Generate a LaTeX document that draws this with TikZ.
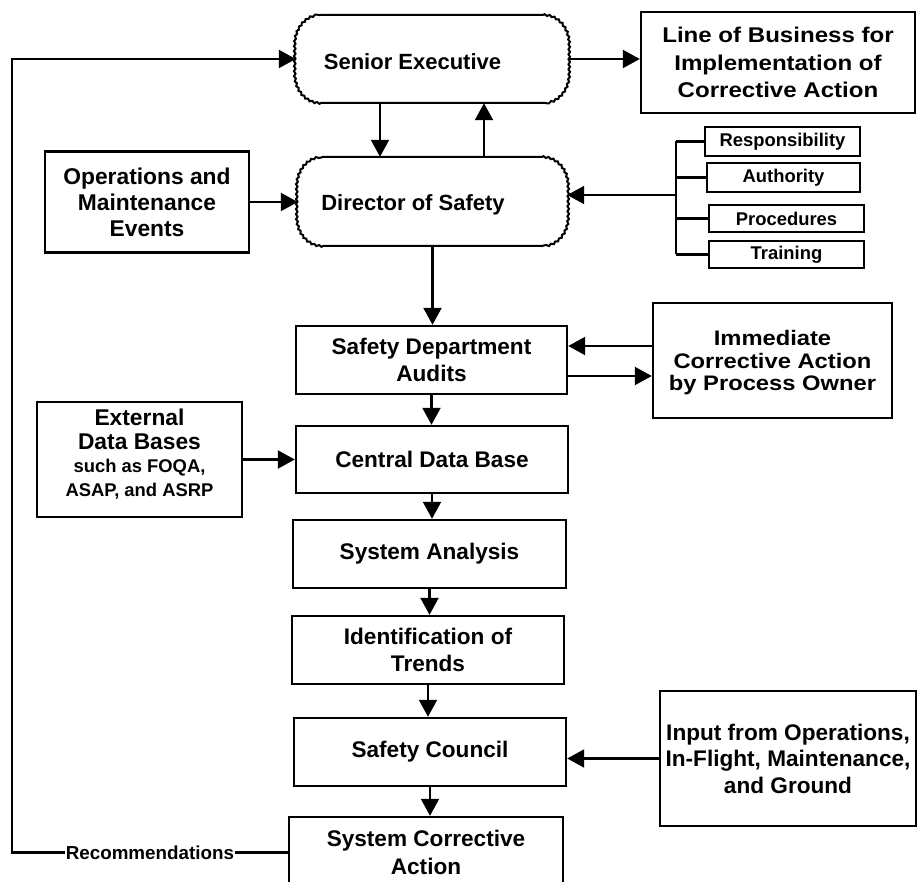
\documentclass[tikz,border=0pt]{standalone}
\usepackage{fontspec}
\setmainfont{Liberation Sans}
\newfontfamily\widefont{Liberation Sans}[FakeStretch=1.13]
\usetikzlibrary{arrows.meta,decorations.pathmorphing,calc}

\tikzset{
  box/.style={draw, line width=2.4pt, inner sep=0pt, align=center,
    font=\bfseries\fontsize{22.6}{27}\selectfont},
  widebox/.style={box, font=\bfseries\widefont\fontsize{21.3}{27.5}\selectfont},
  ovaltext/.style={inner sep=0pt, align=center,
    font=\bfseries\fontsize{22}{27}\selectfont},
  tag/.style={draw, line width=2pt, inner sep=0pt,
    font=\bfseries\fontsize{18.4}{20}\selectfont},
  link/.style={line width=2.1pt},
  arr/.style={link, -{Triangle[length=17pt,width=18pt]}},
  wavy/.style={decoration={snake, amplitude=0.8pt, segment length=5pt}},
}

% stadium outline with wavy rounded ends: #1,#2 = top left, #3,#4 = bottom right
\newcommand\wavyoval[4]{%
  \draw[line width=2pt] (#1+25,#2) -- (#3-25,#2)
    decorate[wavy]{arc[start angle=-90,end angle=0,x radius=25,y radius=29]
      -- (#3,#4-29) arc[start angle=0,end angle=90,x radius=25,y radius=29]}
    -- (#1+25,#4)
    decorate[wavy]{arc[start angle=90,end angle=180,x radius=25,y radius=29]
      -- (#1,#2+29) arc[start angle=180,end angle=270,x radius=25,y radius=29]}
    -- cycle;}

\begin{document}
\begin{tikzpicture}[x=1pt,y=1pt,yscale=-1]
\useasboundingbox (0,0) rectangle (917,882);
\clip (0,0) rectangle (917,882);

% top level
\node[ovaltext, minimum width=272pt, minimum height=88pt] (se) at (432,59)
  {\mbox{}\\[-5pt]Senior Executive\hspace*{39pt}};
\wavyoval{296}{15}{568}{103}
\node[ovaltext, minimum width=269pt, minimum height=89pt] (ds) at (432.5,201.5)
  {\mbox{}\\[-5pt]Director of Safety\hspace*{39pt}};
\wavyoval{298}{157}{567}{246}

\node[widebox, minimum width=274pt, minimum height=101pt] (lob) at (778,62.5)
  {Line of Business for\\Implementation of\\Corrective Action};
\node[box, minimum width=204pt, minimum height=101pt,
  font=\bfseries\fontsize{22.8}{26}\selectfont] (ops) at (147,202)
  {Operations and\\Maintenance\\Events};

% program elements
\node[tag, minimum width=155pt, minimum height=29pt] (resp) at (782.5,141.5) {Responsibility};
\node[tag, minimum width=153pt, minimum height=29pt] (auth) at (783.5,177.5) {Authority};
\node[tag, minimum width=155pt, minimum height=27pt] (proc) at (786.5,218.5) {Procedures};
\node[tag, minimum width=155pt, minimum height=27pt] (train) at (786.5,254.5) {Training};

% main chain
\node[box, minimum width=271pt, minimum height=68pt] (sda) at (431.5,360)
  {Safety Department\\Audits};
\node[widebox, minimum width=239pt, minimum height=115pt,
  font=\bfseries\widefont\fontsize{21}{22.5}\selectfont] (ica) at (772.5,360.5)
  {\mbox{}\\[-3pt]Immediate\\Corrective Action\\by Process Owner};
\node[box, minimum width=205pt, minimum height=115pt,
  font=\bfseries\fontsize{22.8}{23.5}\selectfont] (ext) at (139.5,459.5)
  {External\\Data Bases\\{\fontsize{18.4}{22.5}\selectfont such as FOQA,}\\
   {\fontsize{18.4}{22.5}\selectfont ASAP, and ASRP}\\[-10pt]\mbox{}};
\node[box, minimum width=272pt, minimum height=67pt] (cdb) at (432,459.5) {Central Data Base};
\node[box, minimum width=273pt, minimum height=68pt] (sa) at (429.5,554) {System Analysis};
\node[box, minimum width=272pt, minimum height=68pt] (iot) at (428,650)
  {Identification of\\Trends};
\node[box, minimum width=272pt, minimum height=68pt] (sc) at (430,752) {Safety Council};
\node[box, minimum width=256pt, minimum height=135pt,
  font=\bfseries\fontsize{22.6}{26.5}\selectfont] (input) at (788,758.5)
  {Input from Operations,\\In-Flight, Maintenance,\\and Ground};
\node[box, minimum width=274pt, minimum height=71pt,
  font=\bfseries\fontsize{22.6}{28}\selectfont] (sca) at (426,852.5)
  {System Corrective\\Action};

% helper points for connector levels
\coordinate (xdown) at (380,0);
\coordinate (xup) at (484,0);
\coordinate (brk) at (676,195);
\coordinate (yin) at (0,346);
\coordinate (yout) at (0,376);
\coordinate (loopb) at (12,852.5);
\coordinate (loopt) at (12,59);

% connectors
\draw[arr] (se.south -| xdown) -- (ds.north -| xdown);
\draw[arr] (ds.north -| xup) -- (se.south -| xup);
\draw[arr] (se.east) -- (se.east -| lob.west);
\draw[arr] (ops.east) -- (ops.east -| ds.west);

\draw[link] (resp.west -| brk) -- (train.west -| brk);
\foreach \n in {resp,auth,proc,train}
  \draw[link] (\n.west -| brk) -- (\n.west);
\draw[arr] (brk) -- (brk -| ds.east);

\draw[arr] (ds.south) -- (ds.south |- sda.north);
\draw[arr] (ica.west |- yin) -- (sda.east |- yin);
\draw[arr] (sda.east |- yout) -- (ica.west |- yout);
\draw[arr] (sda.south) -- (sda.south |- cdb.north);
\draw[arr] (ext.east) -- (ext.east -| cdb.west);
\draw[arr] (cdb.south) -- (cdb.south |- sa.north);
\draw[arr] (sa.south) -- (sa.south |- iot.north);
\draw[arr] (iot.south) -- (iot.south |- sc.north);
\draw[arr] (input.west) -- (input.west -| sc.east);
\draw[arr] (sc.south) -- (sc.south |- sca.north);

% feedback loop
\draw[arr] (sca.west) -- node[fill=white, inner xsep=1pt, inner ysep=0pt,
    font=\bfseries\fontsize{18.8}{20}\selectfont] (rec) {Recommendations}
  (loopb) -- (loopt) -- (loopt -| se.west);
\end{tikzpicture}
\end{document}
